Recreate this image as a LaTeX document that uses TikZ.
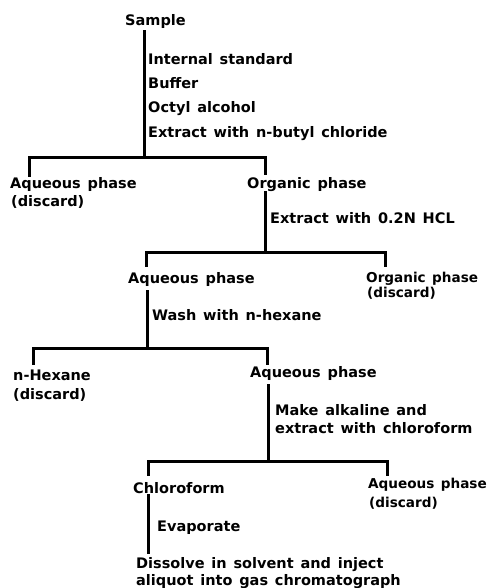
\documentclass[tikz,border=0pt]{standalone}
\usepackage{fontspec}
\setmainfont{DejaVu Sans}[WordSpace=1.35]
\begin{document}
\begin{tikzpicture}[x=1pt,y=-1pt,
  lbl/.style={anchor=base west, inner sep=0pt, font=\bfseries\fontsize{14.5}{17}\selectfont},
  lbls/.style={lbl, font=\bfseries\fontsize{13.6}{16}\selectfont},
  wire/.style={line width=3pt, line cap=rect}]
\useasboundingbox (0,0) rectangle (489,588);
% text nodes
\node[lbl] (sample) at (125,26) {Sample};
\node[lbl] (s1) at (148,65) {Internal standard};
\node[lbl] (s2) at (148,89) {Buffer};
\node[lbl] (s3) at (148,113) {Octyl alcohol};
\node[lbl] (s4) at (148,138) {Extract with n-butyl chloride};
\node[lbl] (aq1) at (10,188) {Aqueous phase};
\node[lbl] (aq1d) at (11,206) {(discard)};
\node[lbl] (org1) at (247,188) {Organic phase};
\node[lbl] (s5) at (270,223) {Extract with 0.2N HCL};
\node[lbl] (aq2) at (128,283) {Aqueous phase};
\node[lbls] (org2) at (366,282) {Organic phase};
\node[lbls] (org2d) at (367,297) {(discard)};
\node[lbl] (s6) at (152,320) {Wash with n-hexane};
\node[lbl] (hex) at (13,380) {n-Hexane};
\node[lbl] (hexd) at (13,399) {(discard)};
\node[lbl] (aq3) at (250,377) {Aqueous phase};
\node[lbl] (s7) at (275,415) {Make alkaline and};
\node[lbl] (s7b) at (275,433) {extract with chloroform};
\node[lbl] (chl) at (133,493) {Chloroform};
\node[lbls] (aq4) at (368,488) {Aqueous phase};
\node[lbls] (aq4d) at (369,507) {(discard)};
\node[lbl] (s8) at (157,531) {Evaporate};
\node[lbl] (dis) at (136,568) {Dissolve in solvent and inject};
\node[lbl] (disb) at (136,585) {aliquot into gas chromatograph};
% junctions
\coordinate (j1) at (144,158); \coordinate (l1) at (29,175); \coordinate (r1) at (265,173);
\coordinate (j2) at (265,252); \coordinate (l2) at (146,265); \coordinate (r2) at (385,265);
\coordinate (j3) at (147,348); \coordinate (l3) at (33,363); \coordinate (r3) at (267,363);
\coordinate (j4) at (268,461); \coordinate (l4) at (148,474); \coordinate (r4) at (387,474);
\coordinate (e5) at (148,552);
% connectors
\draw[wire] ([yshift=-2pt]sample.south -| j1) -- (j1);
\draw[wire] (l1) -- (l1 |- j1) -- (r1 |- j1) -- (r1);
\draw[wire] ([yshift=-1pt]org1.south -| j2) -- (j2);
\draw[wire] (l2) -- (l2 |- j2) -- (r2 |- j2) -- (r2);
\draw[wire] ([yshift=-5pt]aq2.south -| j3) -- (j3);
\draw[wire] (l3) -- (l3 |- j3) -- (r3 |- j3) -- (r3);
\draw[wire] ([yshift=-5pt]aq3.south -| j4) -- (j4);
\draw[wire] (l4) -- (l4 |- j4) -- (r4 |- j4) -- (r4);
\draw[wire] ([yshift=-2pt]chl.south -| e5) -- (e5);
\end{tikzpicture}
\end{document}
